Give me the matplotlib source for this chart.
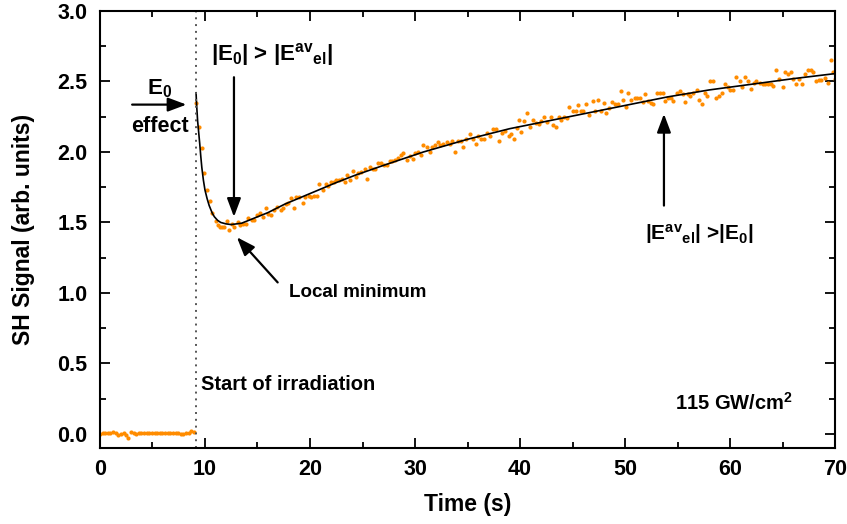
import matplotlib
matplotlib.use('Agg')
import matplotlib.pyplot as plt
from matplotlib.ticker import MultipleLocator

plt.rcParams.update({
    'font.family': ['Liberation Sans', 'DejaVu Sans'],
    'font.weight': 'bold',
    'font.size': 14,
    'mathtext.fontset': 'custom',
    'mathtext.rm': 'Liberation Sans:bold',
    'mathtext.it': 'Liberation Sans:bold',
    'mathtext.bf': 'Liberation Sans:bold',
})

# ── data ────────────────────────────────────────────────────────────────────
# before irradiation
base_t = [0.0, 0.25, 0.5, 0.75, 1.0, 1.25, 1.5, 1.75, 2.0, 2.25, 2.5, 2.7,
          2.95, 3.2, 3.45, 3.7, 3.95, 4.2, 4.45, 4.7, 4.95, 5.2, 5.45, 5.7,
          5.95, 6.2, 6.45, 6.7, 6.95, 7.2, 7.45, 7.7, 7.95, 8.2, 8.45, 8.7, 8.95]
base_v = [0.000, 0.005, 0.008, 0.010, 0.006, 0.012, 0.004, -0.008, -0.002,
          0.004, -0.010, -0.026, 0.016, 0.004, 0.002, 0.004, 0.006, 0.005,
          0.007, 0.004, 0.008, 0.006, 0.005, 0.008, 0.004, 0.006, 0.005,
          0.008, 0.004, 0.003, 0.006, 0.002, 0.000, 0.004, 0.010, 0.018, 0.012]

# under irradiation
irr_t = [9.11, 9.43, 9.68, 9.93, 10.19, 10.45, 10.70, 11.02, 11.2, 11.4, 11.65,
         11.8, 12.06, 12.29, 12.54, 12.8, 13.1, 13.37, 13.65, 13.9, 14.13, 14.44,
         14.7, 15.0, 15.2, 15.5, 15.78, 16.0, 16.3, 16.6, 16.9, 17.2, 17.4, 17.7,
         17.9, 18.2, 18.5, 18.7, 19.0, 19.3, 19.5, 19.9, 20.1, 20.4, 20.7, 20.9,
         21.2, 21.5, 21.7, 22.0, 22.3, 22.5, 22.8, 23.05, 23.3, 23.55, 23.8, 24.1,
         24.4, 24.6, 24.9, 25.2, 25.4, 25.7, 26.0, 26.2, 26.5, 26.8, 27.0, 27.3,
         27.6, 27.8, 28.1, 28.4, 28.7, 28.9, 29.2, 29.5, 29.8, 30.0, 30.3, 30.6,
         30.8, 31.1, 31.4, 31.6, 31.9, 32.2, 32.4, 32.7, 33.0, 33.3, 33.5, 33.8,
         34.1, 34.4, 34.6, 34.9, 35.2, 35.5, 35.8, 36.0, 36.3, 36.6, 36.9, 37.1,
         37.4, 37.7, 38.0, 38.3, 38.6, 38.9, 39.1, 39.4, 39.7, 39.9, 40.1, 40.4,
         40.7, 40.9, 41.2, 41.5, 41.8, 42.0, 42.3, 42.6, 42.9, 43.1, 43.4, 43.7,
         43.9, 44.2, 44.5, 44.7, 45.0, 45.3, 45.5, 45.8, 46.0, 46.3, 46.6, 46.9,
         47.1, 47.4, 47.7, 48.0, 48.2, 48.5, 48.8, 49.0, 49.3, 49.6, 49.8, 50.1,
         50.3, 50.6, 50.9, 51.1, 51.4, 51.7, 51.9, 52.2, 52.5, 52.7, 53.0, 53.3,
         53.6, 53.8, 54.1, 54.4, 54.6, 54.9, 55.2, 55.5, 55.7, 56.0, 56.2, 56.5,
         56.8, 57.0, 57.3, 57.6, 57.8, 58.1, 58.4, 58.7, 58.9, 59.2, 59.5, 59.8,
         60.0, 60.3, 60.6, 60.9, 61.1, 61.4, 61.7, 62.0, 62.3, 62.5, 62.8, 63.1,
         63.3, 63.6, 63.9, 64.1, 64.4, 64.7, 65.0, 65.2, 65.5, 65.8, 66.0, 66.3,
         66.6, 66.8, 67.1, 67.4, 67.7, 67.9, 68.2, 68.5, 68.7, 69.0, 69.3, 69.6,
         69.8, 70.0]
irr_v = [2.35, 2.18, 2.03, 1.85, 1.73, 1.65, 1.57, 1.51, 1.48, 1.47, 1.47,
         1.47, 1.51, 1.45, 1.49, 1.47, 1.50, 1.48, 1.49, 1.49, 1.53, 1.52,
         1.52, 1.55, 1.57, 1.54, 1.60, 1.56, 1.55, 1.59, 1.61, 1.59, 1.60, 1.63,
         1.64, 1.67, 1.60, 1.68, 1.68, 1.64, 1.68, 1.69, 1.68, 1.69, 1.69, 1.77,
         1.73, 1.77, 1.76, 1.79, 1.79, 1.80, 1.80, 1.81, 1.79, 1.84, 1.80, 1.865,
         1.82, 1.85, 1.86, 1.88, 1.81, 1.89, 1.88, 1.88, 1.92, 1.92, 1.91, 1.905,
         1.935, 1.935, 1.94, 1.96, 1.98, 1.99, 1.94, 1.97, 1.95, 1.99, 2.00, 1.98,
         2.05, 2.035, 2.00, 2.035, 2.05, 2.07, 2.05, 2.055, 2.07, 2.06, 2.08, 2.00,
         2.075, 2.08, 2.035, 2.095, 2.125, 2.09, 2.06, 2.11, 2.09, 2.09, 2.135, 2.11,
         2.16, 2.16, 2.075, 2.135, 2.15, 2.11, 2.125, 2.095, 2.17, 2.23, 2.14, 2.22,
         2.28, 2.18, 2.23, 2.205, 2.195, 2.22, 2.25, 2.21, 2.25, 2.19, 2.18, 2.25,
         2.23, 2.25, 2.24, 2.32, 2.29, 2.29, 2.33, 2.29, 2.29, 2.34, 2.265, 2.36,
         2.29, 2.37, 2.29, 2.35, 2.28, 2.31, 2.355, 2.34, 2.34, 2.43, 2.37, 2.32,
         2.42, 2.37, 2.38, 2.38, 2.38, 2.355, 2.41, 2.36, 2.35, 2.34, 2.42, 2.42,
         2.415, 2.36, 2.385, 2.385, 2.36, 2.415, 2.43, 2.41, 2.355, 2.41, 2.40, 2.415,
         2.44, 2.37, 2.34, 2.42, 2.40, 2.50, 2.50, 2.385, 2.40, 2.42, 2.485, 2.46,
         2.44, 2.44, 2.53, 2.50, 2.46, 2.53, 2.50, 2.45, 2.49, 2.50, 2.49, 2.485,
         2.485, 2.485, 2.48, 2.47, 2.58, 2.515, 2.46, 2.57, 2.55, 2.57, 2.515, 2.485,
         2.52, 2.48, 2.55, 2.585, 2.58, 2.565, 2.50, 2.51, 2.51, 2.525, 2.49, 2.655,
         2.57, 2.52]

# fitted curve
fit_t = [9.15, 9.2, 9.3, 9.4, 9.5, 9.6, 9.7, 9.85, 10.0, 10.2, 10.4, 10.7,
         10.9, 11.2, 11.5, 12.0, 12.5, 13.5, 14.5, 16.0, 17.6, 19.2, 20.8, 22.4,
         24.3, 27.0, 30.8, 35.0, 39.0, 42.0, 46.0, 50.0, 54.0, 58.0, 62.0, 66.0, 70.0]
fit_v = [2.42, 2.34, 2.22, 2.14, 2.06, 1.97, 1.89, 1.80, 1.73, 1.67, 1.62, 1.565,
         1.54, 1.515, 1.50, 1.49, 1.485, 1.495, 1.525, 1.57, 1.63, 1.68, 1.73, 1.78,
         1.835, 1.905, 2.00, 2.09, 2.165, 2.21, 2.27, 2.33, 2.39, 2.44, 2.48, 2.52, 2.556]

t_start = 9.15
orange = '#FF8C00'

fig = plt.figure(figsize=(8.47, 5.24), dpi=100)
ax = fig.add_axes([0.118, 0.145, 0.868, 0.834])

ax.plot(base_t, base_v, 'o', color=orange, ms=3.0, mew=0)
ax.plot(irr_t, irr_v, 'o', color=orange, ms=3.0, mew=0)
ax.plot(fit_t, fit_v, color='black', lw=1.2)
ax.axvline(t_start, color='#555555', ls=(0, (1, 2.5)), lw=1.4)

ax.set_xlim(0, 70)
ax.set_ylim(-0.1, 3.0)
ax.xaxis.set_major_locator(MultipleLocator(10))
ax.xaxis.set_minor_locator(MultipleLocator(5))
ax.yaxis.set_major_locator(MultipleLocator(0.5))
ax.yaxis.set_minor_locator(MultipleLocator(0.25))
ax.yaxis.set_major_formatter(matplotlib.ticker.FormatStrFormatter('%.1f'))
ax.tick_params(which='both', direction='in', top=True, right=True, width=1.3,
               labelsize=15.5)
ax.tick_params(axis='x', pad=8)
ax.tick_params(axis='y', pad=9)
ax.tick_params(which='major', length=7)
ax.tick_params(which='minor', length=4)
for s in ax.spines.values():
    s.set_linewidth(1.5)
ax.set_xlabel('Time (s)', fontsize=16.5, fontweight='bold', labelpad=9)
ax.set_ylabel('SH Signal (arb. units)', fontsize=16.5, fontweight='bold', labelpad=16)

arr = dict(arrowstyle='-|>,head_length=0.8,head_width=0.3', color='black', lw=1.6)
ax.annotate('', xy=(8.5, 2.336), xytext=(2.8, 2.336), arrowprops=arr)
ax.text(5.7, 2.45, 'E$_0$', ha='center', va='center', fontsize=16)
ax.text(5.7, 2.18, 'effect', ha='center', va='center', fontsize=15.5)

ax.text(16.4, 2.69, '|E$_0$| > |E$^{av}{}_{el}$|', ha='center', va='center', fontsize=16)
ax.annotate('', xy=(12.76, 1.52), xytext=(12.76, 2.55), arrowprops=arr)

ax.text(18.0, 1.0, 'Local minimum', ha='left', va='center', fontsize=13.5)
ax.annotate('', xy=(12.86, 1.41), xytext=(17.1, 1.06), arrowprops=arr)

ax.annotate('', xy=(53.7, 2.29), xytext=(53.7, 1.60), arrowprops=arr)
ax.text(57.1, 1.42, '|E$^{av}{}_{el}$| >|E$_0$|', ha='center', va='center', fontsize=15)

ax.text(9.6, 0.35, 'Start of irradiation', ha='left', va='center', fontsize=14.5)
ax.text(60.4, 0.22, '115 GW/cm$^2$', ha='center', va='center', fontsize=14.5)

fig.savefig('out.png', dpi=100)
